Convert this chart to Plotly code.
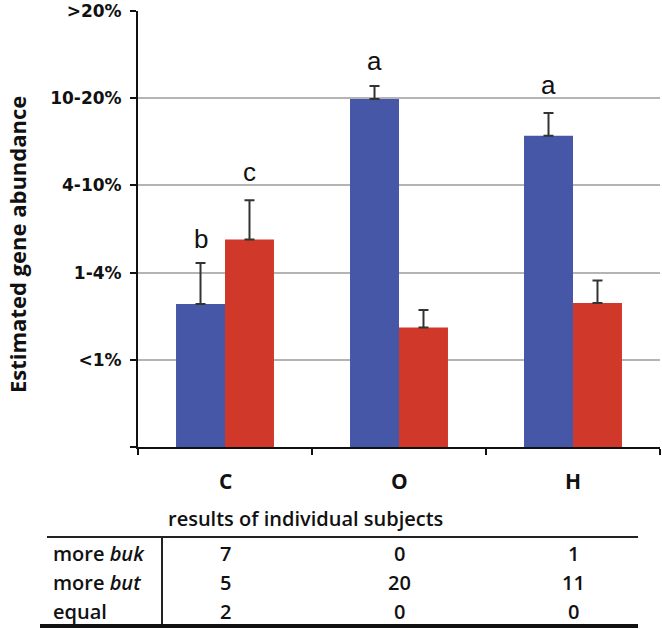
import plotly.graph_objects as go

categories = ["C", "O", "H"]
tick_vals = [0, 1, 2, 3, 4, 5]
tick_text = ["", "<1%", "1-4%", "4-10%", "10-20%", ">20%"]

buk_values = [1.64, 3.99, 3.57]
buk_err = [0.47, 0.15, 0.26]
but_values = [2.38, 1.37, 1.65]
but_err = [0.45, 0.20, 0.26]

letters_buk = ["b", "a", "a"]
letters_buk_y = [2.39, 4.43, 4.15]
letters_but = ["c", "", ""]
letters_but_y = [3.15, None, None]

table_header = "results of individual subjects"
row_labels = ["more <i>buk</i>", "more <i>but</i>", "equal"]
row_values = [[7, 0, 1], [5, 20, 11], [2, 0, 0]]

BLUE = "#4557a6"
RED = "#d0392a"
ERR = "#333333"
TXT = "#111111"

fig = go.Figure()
fig.add_trace(go.Bar(
    x=categories, y=buk_values, marker=dict(color=BLUE, line=dict(width=0)),
    error_y=dict(type="data", array=buk_err, arrayminus=[0, 0, 0], symmetric=False,
                 color=ERR, thickness=2, width=5),
    showlegend=False, name="buk"))
fig.add_trace(go.Bar(
    x=categories, y=but_values, marker=dict(color=RED, line=dict(width=0)),
    error_y=dict(type="data", array=but_err, arrayminus=[0, 0, 0], symmetric=False,
                 color=ERR, thickness=2, width=5),
    showlegend=False, name="but"))

W, H = 662, 629
L, R, T, B = 138, 2, 11, 182
pw = W - L - R
ph = H - T - B

def px(x):
    return (x - L) / pw

def py(y):
    return (H - B - y) / ph

annotations = []
for i, c in enumerate(categories):
    annotations.append(dict(x=c, y=letters_buk_y[i], xref="x", yref="y", text=letters_buk[i],
                            showarrow=False, xshift=-24.5, xanchor="center", yanchor="middle",
                            font=dict(family="Liberation Sans", size=26, color=TXT)))
    if letters_but[i]:
        annotations.append(dict(x=c, y=letters_but_y[i], xref="x", yref="y", text=letters_but[i],
                                showarrow=False, xshift=24.5, xanchor="center", yanchor="middle",
                                font=dict(family="Liberation Sans", size=26, color=TXT)))
    annotations.append(dict(x=c, y=py(481), xref="x", yref="paper", text="<b>%s</b>" % c,
                            showarrow=False, xanchor="center", yanchor="middle",
                            font=dict(family="Open Sans", size=21, color=TXT)))

annotations.append(dict(x=px(305), y=py(518), xref="paper", yref="paper", text=table_header,
                        showarrow=False, xanchor="center", yanchor="middle",
                        font=dict(family="Open Sans", size=20, color=TXT, weight=600)))
row_y = [553, 582, 611]
for r, lab in enumerate(row_labels):
    annotations.append(dict(x=px(51), y=py(row_y[r]), xref="paper", yref="paper", text=lab,
                            showarrow=False, xanchor="left", yanchor="middle",
                            font=dict(family="Open Sans", size=20, color=TXT, weight=600)))
    for j, c in enumerate(categories):
        annotations.append(dict(x=c, y=py(row_y[r]), xref="x", yref="paper",
                                text=str(row_values[r][j]), showarrow=False,
                                xanchor="center", yanchor="middle",
                                font=dict(family="Open Sans", size=20, color=TXT, weight=600)))

annotations.append(dict(x=px(17), y=py(245), xref="paper", yref="paper",
                        text="<b>Estimated gene abundance</b>", textangle=-90,
                        showarrow=False, xanchor="center", yanchor="middle",
                        font=dict(family="Open Sans", size=22, color=TXT)))

shapes = [
    dict(type="line", xref="paper", yref="paper", x0=px(47), x1=px(638), y0=py(537), y1=py(537),
         line=dict(color="#222", width=2)),
    dict(type="line", xref="paper", yref="paper", x0=px(162), x1=px(162), y0=py(537), y1=py(626),
         line=dict(color="#222", width=2)),
    dict(type="line", xref="paper", yref="paper", x0=px(40), x1=px(638), y0=py(626), y1=py(626),
         line=dict(color="#111", width=4)),
]

fig.update_layout(
    width=W, height=H, margin=dict(l=L, r=R, t=T, b=B),
    paper_bgcolor="white", plot_bgcolor="white",
    barmode="group", bargap=0.437, bargroupgap=0,
    annotations=annotations, shapes=shapes,
    xaxis=dict(showticklabels=False, tickson="boundaries", ticks="outside", ticklen=6,
               tickwidth=2, tickcolor="#111", showline=True, linecolor="#111", linewidth=2,
               showgrid=False, zeroline=False),
    yaxis=dict(range=[0, 5.0], tickvals=tick_vals,
               ticktext=["<b>%s</b>" % t if t else "" for t in tick_text],
               ticks="outside", ticklen=6, tickwidth=2, tickcolor="#111", showline=True,
               linecolor="#111", linewidth=2, showgrid=True, gridcolor="#b4b4b4",
               gridwidth=1.5, zeroline=False,
               tickfont=dict(family="DejaVu Sans", size=17, color=TXT),
               ticklabelstandoff=5),
)

fig.write_html("out.html", config={"displayModeBar": False},
               post_script="document.body.style.margin='0';")
